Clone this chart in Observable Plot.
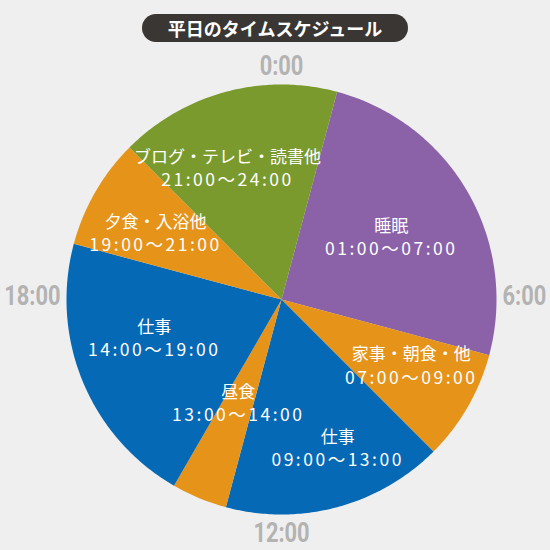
<!DOCTYPE html>
<html><head><meta charset="utf-8">
<script src="https://cdn.jsdelivr.net/npm/d3@7"></script>
<script src="https://cdn.jsdelivr.net/npm/@observablehq/plot@0.6"></script>
<style>
body{margin:0;background:#efefef;}
#wrap{position:relative;width:550px;height:550px;}
#wrap svg{position:absolute;left:0;top:0;}
#title{position:absolute;left:142px;top:14px;width:266px;height:28px;border-radius:14px;background:#3a3634;color:#fff;font-family:"Noto Sans CJK JP";font-weight:bold;font-size:18px;text-align:center;line-height:28px;z-index:2;}
</style></head><body>
<div id="wrap"><div id="title">平日のタイムスケジュール</div></div>
<script>
// ---- data ----
const activities = ["睡眠", "家事・朝食・他", "仕事", "昼食", "仕事", "夕食・入浴他", "ブログ・テレビ・読書他"];
const startHours = [1, 7, 9, 13, 14, 19, 21];
const endHours   = [7, 9, 13, 14, 19, 21, 25];
const timeLabels = ["01:00〜07:00", "07:00〜09:00", "09:00〜13:00", "13:00〜14:00", "14:00〜19:00", "19:00〜21:00", "21:00〜24:00"];
const sliceColors = ["#8b62a8", "#e6931a", "#0669b5", "#e6931a", "#0669b5", "#e6931a", "#7b9a2d"];
const hourTicks = [0, 6, 12, 18];
const hourTickLabels = ["0:00", "6:00", "12:00", "18:00"];

// ---- label layout (clock hour, fraction of radius) ----
const labelHour   = [4.04, 7.82, 10.63, 13.5, 16.86, 19.84, 22.5];
const labelRadius = [0.586, 0.679, 0.744, 0.525, 0.619, 0.661, 0.656];

// clock hours -> polar azimuthal coordinates
const R0 = 60;
const lonOf = h => 180 - 15 * h;
const latOf = r => 90 - R0 * r;

const slices = activities.map((name, i) => {
  const h0 = startHours[i], h1 = endHours[i];
  const n = Math.ceil((h1 - h0) * 24);
  const ring = [[0, 90]];
  for (let k = 0; k <= n; k++) {
    const h = h0 + (h1 - h0) * k / n;
    ring.push([lonOf(h), latOf(1)]);
  }
  ring.push([0, 90]);
  return {type: "Feature", properties: {name, color: sliceColors[i]}, geometry: {type: "Polygon", coordinates: [ring]}};
});

const labels = activities.map((name, i) => ({
  name, time: timeLabels[i], lon: lonOf(labelHour[i]), lat: latOf(labelRadius[i])
}));
const hourData = hourTicks.map((h, i) => ({h, label: hourTickLabels[i], lon: lonOf(h)}));

const hourFont = {fill: "#b3b3b3", fontSize: 28, fontWeight: "bold", fontFamily: "'Roboto', sans-serif"};

const chart = Plot.plot({
  width: 550, height: 550,
  marginLeft: 66, marginRight: 54, marginTop: 84, marginBottom: 36,
  projection: {type: "azimuthal-equidistant", rotate: [0, -90], domain: d3.geoCircle().center([0, 90]).radius(R0)(), inset: 0, clip: false},
  color: {type: "identity"},
  style: {background: "transparent"},
  marks: [
    Plot.geo(slices, {fill: d => d.properties.color}),
    Plot.text(labels, {x: "lon", y: "lat", text: "name", dy: -11.5, fill: "white", fontSize: 17, fontFamily: "'Noto Sans CJK JP', sans-serif"}),
    Plot.text(labels, {x: "lon", y: "lat", text: "time", dy: 11.5, fill: "white", fontSize: 17.5, fontFamily: "'Noto Sans CJK JP', sans-serif"}),
    Plot.text(hourData, {filter: d => d.h % 12 === 0, x: "lon", y: () => latOf(1.088), text: "label", textAnchor: "middle", ...hourFont}),
    Plot.text(hourData, {filter: d => d.h === 6, x: "lon", y: () => latOf(1.028), text: "label", textAnchor: "start", dy: -3, ...hourFont}),
    Plot.text(hourData, {filter: d => d.h === 18, x: "lon", y: () => latOf(1.028), text: "label", textAnchor: "end", dy: -3, ...hourFont})
  ]
});
const textGroups = chart.querySelectorAll('g[aria-label="text"]');
if (textGroups[1]) textGroups[1].setAttribute("letter-spacing", "2.5");
// condense the hour labels horizontally around their anchor
for (let g = 2; g < textGroups.length; g++) {
  textGroups[g].querySelectorAll("text").forEach(t => {
    const tr = t.getAttribute("transform") || "";
    t.setAttribute("transform", tr + " scale(0.78,1)");
  });
}
document.getElementById("wrap").appendChild(chart);
</script>
</body></html>
